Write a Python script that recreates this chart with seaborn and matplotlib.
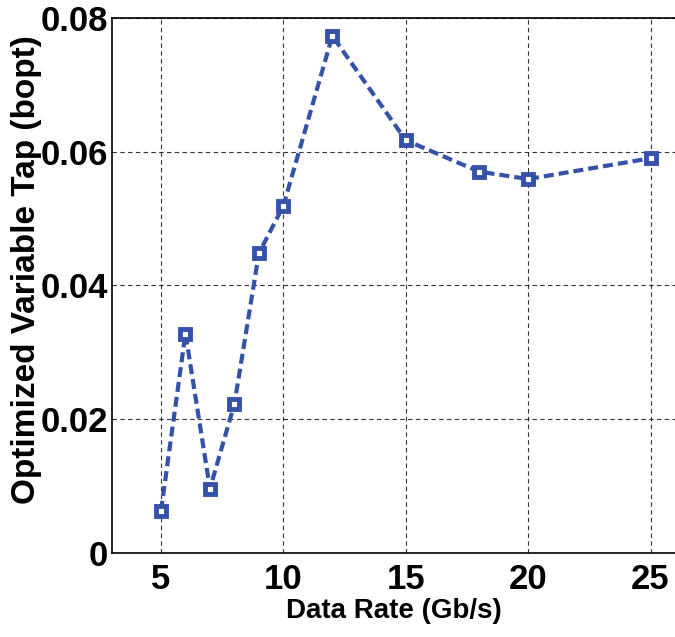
import matplotlib
matplotlib.use("Agg")
import matplotlib.pyplot as plt
import seaborn as sns
import pandas as pd

data_rate = [5, 6, 7, 8, 9, 10, 12, 15, 18, 20, 25]
bopt = [0.0063, 0.0328, 0.0096, 0.0223, 0.0448, 0.0519, 0.0773, 0.0617, 0.0570, 0.0559, 0.0590]
xticks = [5, 10, 15, 20, 25]
yticks = [0, 0.02, 0.04, 0.06, 0.08]
ytick_labels = ["0", "0.02", "0.04", "0.06", "0.08"]

sns.set_style("white")
plt.rcParams['font.family'] = ['Liberation Sans', 'DejaVu Sans']
plt.rcParams['font.weight'] = 'bold'
plt.rcParams['text.color'] = 'black'
plt.rcParams['axes.labelcolor'] = 'black'
plt.rcParams['xtick.color'] = 'black'
plt.rcParams['ytick.color'] = 'black'

df = pd.DataFrame({"rate": data_rate, "bopt": bopt})
fig = plt.figure(figsize=(6.75, 6.37), dpi=100)
ax = fig.add_axes([0.166, 0.132, 0.834, 0.840])
color = "#3352a8"
sns.lineplot(data=df, x="rate", y="bopt", ax=ax, color=color, linewidth=3,
             linestyle=(0, (2.4, 1.2)), marker="s", markersize=6.5,
             markerfacecolor="white", markeredgecolor=color, markeredgewidth=3.5)
ax.set_xlim(3, 26)
ax.set_ylim(0, 0.08)
ax.set_xticks(xticks)
ax.set_xticklabels([str(t) for t in xticks])
ax.set_yticks(yticks)
ax.set_yticklabels(ytick_labels)
ax.tick_params(axis='both', labelsize=25, length=0, labelcolor='black')
ax.tick_params(axis='y', pad=3)
ax.tick_params(axis='x', pad=7)
for lab in ax.get_xticklabels() + ax.get_yticklabels():
    lab.set_fontweight('bold')
ax.grid(True, color='black', linestyle=(0, (4, 3)), linewidth=0.8, alpha=0.8)
for s in ['left', 'bottom', 'top']:
    ax.spines[s].set_visible(True)
    ax.spines[s].set_color('black')
    ax.spines[s].set_linewidth(1.2)
ax.spines['right'].set_visible(False)
ax.set_xlabel("Data Rate (Gb/s)", fontsize=20, fontweight='bold', labelpad=2, color='black')
ax.set_ylabel("Optimized Variable Tap (bopt)", fontsize=24, fontweight='bold', color='black')
ax.yaxis.set_label_coords(-0.124, 0.53)
fig.savefig("out.png", dpi=100)
